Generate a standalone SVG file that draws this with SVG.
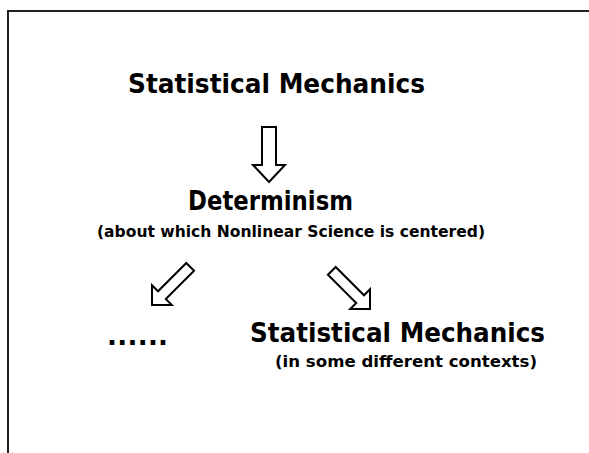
<svg xmlns="http://www.w3.org/2000/svg" width="589" height="453" viewBox="0 0 589 453">
<style>
.t{font-family:"DejaVu Sans","Noto Sans",sans-serif;font-weight:bold;fill:#000}
.big{font-size:26px}
.small{font-size:16px}
.arr{fill:#fff;stroke:#000;stroke-width:2;stroke-linejoin:miter}
.frame{stroke:#222;stroke-width:2;fill:none}
</style>
<defs>
<polygon id="downArrow" class="arr" points="-7,-55 7,-55 7,-17 16,-17 0,0 -16,-17 -7,-17"/>
<polygon id="diagArrow" class="arr" points="-5.5,-54 5.5,-54 5.5,-14 14,-14 0,0 -14,-14 -5.5,-14"/>
</defs>
<rect width="589" height="453" fill="#fff"/>
<path class="frame" d="M8,453 V11 H589"/>
<g id="node-statmech-top"><text class="t big" x="128" y="93" textLength="297" lengthAdjust="spacingAndGlyphs">Statistical Mechanics</text></g>
<g id="node-determinism">
<text class="t big" x="188" y="210" textLength="165" lengthAdjust="spacingAndGlyphs">Determinism</text>
<text class="t small" x="97" y="237" textLength="388" lengthAdjust="spacingAndGlyphs">(about which Nonlinear Science is centered)</text>
</g>
<g id="node-dots"><text class="t big" x="107" y="345" textLength="61" lengthAdjust="spacing">......</text></g>
<g id="node-statmech-bottom">
<text class="t big" x="250" y="342" textLength="295" lengthAdjust="spacingAndGlyphs">Statistical Mechanics</text>
<text class="t small" x="275" y="367" textLength="262" lengthAdjust="spacingAndGlyphs">(in some different contexts)</text>
</g>
<g id="connectors">
<use href="#downArrow" transform="translate(269,182)"/>
<use href="#diagArrow" transform="translate(152,305) rotate(45)"/>
<use href="#diagArrow" transform="translate(370,309) rotate(-45)"/>
</g>
</svg>
